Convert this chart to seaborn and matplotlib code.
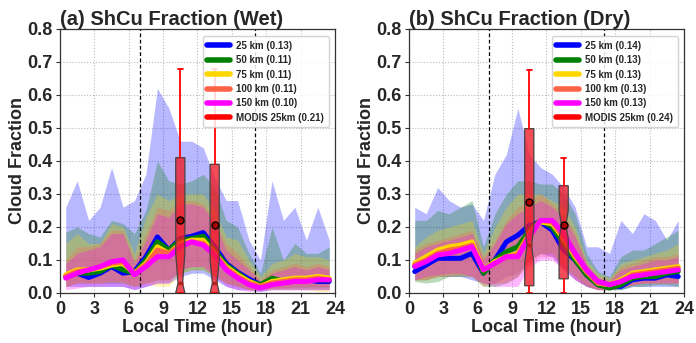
import numpy as np
import pandas as pd
import matplotlib
matplotlib.use("Agg")
import matplotlib.pyplot as plt
from matplotlib.lines import Line2D
import seaborn as sns

hours = [h + 0.5 for h in range(24)]
resolutions = ["25 km", "50 km", "75 km", "100 km", "150 km"]
colors = ["blue", "green", "gold", "tomato", "magenta"]

# ---------------- Wet panel ----------------
wet_mean = {
    "25 km":  [0.050, 0.060, 0.047, 0.060, 0.080, 0.060, 0.065, 0.110, 0.170, 0.130, 0.165, 0.172, 0.183, 0.140, 0.090, 0.063, 0.042, 0.025, 0.030, 0.035, 0.040, 0.040, 0.035, 0.035],
    "50 km":  [0.050, 0.060, 0.060, 0.065, 0.085, 0.070, 0.060, 0.100, 0.155, 0.130, 0.160, 0.165, 0.172, 0.130, 0.085, 0.060, 0.035, 0.025, 0.045, 0.035, 0.040, 0.040, 0.040, 0.040],
    "75 km":  [0.055, 0.070, 0.070, 0.075, 0.085, 0.090, 0.060, 0.090, 0.140, 0.120, 0.150, 0.160, 0.160, 0.120, 0.080, 0.055, 0.035, 0.020, 0.035, 0.040, 0.045, 0.045, 0.050, 0.045],
    "100 km": [0.050, 0.065, 0.070, 0.080, 0.090, 0.095, 0.060, 0.085, 0.130, 0.120, 0.145, 0.155, 0.150, 0.120, 0.075, 0.050, 0.030, 0.020, 0.030, 0.035, 0.040, 0.040, 0.045, 0.040],
    "150 km": [0.045, 0.060, 0.070, 0.080, 0.095, 0.100, 0.055, 0.080, 0.110, 0.110, 0.140, 0.155, 0.145, 0.115, 0.070, 0.045, 0.025, 0.015, 0.025, 0.030, 0.035, 0.035, 0.040, 0.040],
}
wet_hi = {
    "25 km":  [0.26, 0.34, 0.22, 0.26, 0.38, 0.26, 0.28, 0.36, 0.62, 0.56, 0.46, 0.46, 0.44, 0.35, 0.28, 0.28, 0.16, 0.10, 0.34, 0.22, 0.26, 0.16, 0.26, 0.16],
    "50 km":  [0.185, 0.20, 0.18, 0.17, 0.22, 0.21, 0.18, 0.25, 0.40, 0.34, 0.33, 0.34, 0.36, 0.32, 0.22, 0.20, 0.12, 0.06, 0.20, 0.10, 0.15, 0.12, 0.12, 0.14],
    "75 km":  [0.15, 0.18, 0.15, 0.15, 0.21, 0.20, 0.12, 0.23, 0.30, 0.28, 0.30, 0.30, 0.30, 0.25, 0.17, 0.16, 0.10, 0.05, 0.09, 0.10, 0.12, 0.11, 0.11, 0.10],
    "100 km": [0.10, 0.14, 0.14, 0.15, 0.19, 0.19, 0.10, 0.18, 0.26, 0.25, 0.28, 0.28, 0.27, 0.22, 0.15, 0.12, 0.08, 0.04, 0.07, 0.08, 0.09, 0.08, 0.09, 0.08],
    "150 km": [0.09, 0.12, 0.13, 0.14, 0.18, 0.18, 0.09, 0.16, 0.24, 0.23, 0.27, 0.27, 0.26, 0.21, 0.13, 0.10, 0.07, 0.035, 0.06, 0.07, 0.08, 0.07, 0.08, 0.07],
}
wet_lo = {
    "25 km":  [0.020, 0.020, 0.020, 0.020, 0.020, 0.020, 0.010, 0.020, 0.030, 0.030, 0.050, 0.060, 0.060, 0.040, 0.020, 0.010, 0.010, 0.005, 0.010, 0.010, 0.010, 0.010, 0.010, 0.010],
    "50 km":  [0.020, 0.030, 0.030, 0.030, 0.030, 0.030, 0.020, 0.030, 0.040, 0.040, 0.060, 0.070, 0.070, 0.050, 0.030, 0.020, 0.010, 0.010, 0.015, 0.015, 0.015, 0.015, 0.015, 0.015],
    "75 km":  [0.020, 0.030, 0.030, 0.030, 0.035, 0.030, 0.020, 0.030, 0.020, 0.020, 0.060, 0.070, 0.070, 0.050, 0.030, 0.020, 0.010, 0.010, 0.010, 0.010, 0.010, 0.010, 0.005, 0.005],
    "100 km": [0.020, 0.030, 0.030, 0.030, 0.035, 0.035, 0.020, 0.030, 0.040, 0.040, 0.070, 0.080, 0.080, 0.055, 0.030, 0.020, 0.010, 0.010, 0.015, 0.015, 0.020, 0.020, 0.020, 0.020],
    "150 km": [0.010, 0.015, 0.020, 0.020, 0.020, 0.020, 0.010, 0.020, 0.030, 0.030, 0.070, 0.080, 0.080, 0.050, 0.020, 0.010, 0.005, 0.005, 0.010, 0.010, 0.010, 0.010, 0.010, 0.010],
}
wet_legend_vals = ["0.13", "0.11", "0.11", "0.11", "0.10", "0.21"]

# ---------------- Dry panel ----------------
dry_mean = {
    "25 km":  [0.065, 0.085, 0.105, 0.105, 0.105, 0.120, 0.060, 0.100, 0.155, 0.175, 0.205, 0.215, 0.190, 0.130, 0.100, 0.055, 0.025, 0.020, 0.020, 0.040, 0.045, 0.045, 0.055, 0.050],
    "50 km":  [0.080, 0.100, 0.120, 0.125, 0.135, 0.150, 0.060, 0.100, 0.125, 0.140, 0.190, 0.220, 0.200, 0.150, 0.100, 0.055, 0.025, 0.015, 0.025, 0.045, 0.050, 0.050, 0.060, 0.065],
    "75 km":  [0.090, 0.110, 0.130, 0.140, 0.145, 0.155, 0.070, 0.095, 0.110, 0.120, 0.180, 0.215, 0.210, 0.165, 0.110, 0.065, 0.030, 0.025, 0.040, 0.060, 0.065, 0.070, 0.075, 0.080],
    "100 km": [0.085, 0.100, 0.120, 0.130, 0.135, 0.145, 0.070, 0.090, 0.110, 0.115, 0.180, 0.220, 0.215, 0.170, 0.115, 0.065, 0.030, 0.025, 0.035, 0.055, 0.060, 0.065, 0.070, 0.075],
    "150 km": [0.080, 0.095, 0.115, 0.120, 0.130, 0.140, 0.070, 0.090, 0.110, 0.110, 0.170, 0.220, 0.220, 0.180, 0.120, 0.070, 0.035, 0.025, 0.035, 0.050, 0.055, 0.060, 0.065, 0.070],
}
dry_hi = {
    "25 km":  [0.26, 0.24, 0.32, 0.28, 0.26, 0.27, 0.22, 0.36, 0.42, 0.56, 0.42, 0.38, 0.36, 0.32, 0.26, 0.14, 0.14, 0.12, 0.22, 0.18, 0.24, 0.22, 0.16, 0.22],
    "50 km":  [0.22, 0.22, 0.25, 0.24, 0.26, 0.28, 0.14, 0.24, 0.30, 0.34, 0.34, 0.33, 0.33, 0.30, 0.24, 0.12, 0.065, 0.05, 0.11, 0.13, 0.13, 0.15, 0.17, 0.19],
    "75 km":  [0.14, 0.17, 0.19, 0.20, 0.21, 0.22, 0.12, 0.20, 0.26, 0.30, 0.30, 0.30, 0.28, 0.26, 0.20, 0.10, 0.06, 0.045, 0.09, 0.10, 0.11, 0.12, 0.13, 0.15],
    "100 km": [0.13, 0.15, 0.16, 0.17, 0.18, 0.19, 0.11, 0.16, 0.22, 0.26, 0.28, 0.30, 0.27, 0.24, 0.18, 0.09, 0.05, 0.04, 0.08, 0.09, 0.10, 0.11, 0.11, 0.12],
    "150 km": [0.12, 0.14, 0.15, 0.16, 0.17, 0.18, 0.10, 0.15, 0.21, 0.24, 0.26, 0.28, 0.26, 0.23, 0.17, 0.085, 0.045, 0.035, 0.07, 0.08, 0.09, 0.10, 0.10, 0.11],
}
dry_lo = {
    "25 km":  [0.040, 0.040, 0.050, 0.050, 0.050, 0.040, 0.030, 0.030, 0.050, 0.060, 0.100, 0.120, 0.110, 0.070, 0.040, 0.020, 0.010, 0.010, 0.010, 0.020, 0.020, 0.020, 0.020, 0.020],
    "50 km":  [0.035, 0.030, 0.035, 0.050, 0.050, 0.050, 0.020, 0.020, 0.030, 0.050, 0.100, 0.120, 0.120, 0.080, 0.050, 0.020, 0.010, 0.010, 0.010, 0.020, 0.020, 0.025, 0.025, 0.020],
    "75 km":  [0.040, 0.040, 0.050, 0.055, 0.055, 0.050, 0.030, 0.030, 0.040, 0.060, 0.100, 0.120, 0.120, 0.080, 0.050, 0.025, 0.010, 0.010, 0.015, 0.025, 0.030, 0.030, 0.030, 0.030],
    "100 km": [0.040, 0.040, 0.050, 0.050, 0.055, 0.050, 0.020, 0.030, 0.030, 0.050, 0.090, 0.110, 0.110, 0.080, 0.040, 0.020, 0.010, 0.010, 0.015, 0.025, 0.030, 0.030, 0.030, 0.030],
    "150 km": [0.040, 0.050, 0.055, 0.060, 0.060, 0.050, 0.030, 0.020, 0.020, 0.020, 0.080, 0.100, 0.100, 0.070, 0.040, 0.020, 0.010, 0.010, 0.015, 0.025, 0.030, 0.030, 0.030, 0.030],
}
dry_legend_vals = ["0.14", "0.13", "0.13", "0.13", "0.13", "0.24"]

# MODIS box statistics (Terra ~10:30, Aqua ~13:30)
box_pos = [10.5, 13.5]
wet_q1 = [0.0, 0.0]
wet_med = [0.03, 0.03]
wet_q3 = [0.41, 0.39]
wet_whislo = [0.0, 0.0]
wet_whishi = [0.68, 0.68]
wet_cilo = [0.0, 0.0]
wet_cihi = [0.12, 0.10]
wet_boxmean = [0.22, 0.205]

dry_q1 = [0.022, 0.043]
dry_med = [0.145, 0.207]
dry_q3 = [0.498, 0.325]
dry_whislo = [0.0, 0.0]
dry_whishi = [0.675, 0.41]
dry_cilo = [0.09, 0.165]
dry_cihi = [0.20, 0.25]
dry_boxmean = [0.277, 0.207]

titles = ["(a) ShCu Fraction (Wet)", "(b) ShCu Fraction (Dry)"]

sns.set_style("ticks")
plt.rcParams["font.family"] = ["Liberation Sans", "DejaVu Sans"]
plt.rcParams["font.weight"] = "bold"

fig = plt.figure(figsize=(6.96, 3.43), dpi=100)
ax1 = fig.add_axes([0.0862, 0.1458, 0.3951, 0.7697])
ax2 = fig.add_axes([0.5876, 0.1458, 0.3951, 0.7697])

panels = [
    (ax1, wet_mean, wet_lo, wet_hi, wet_legend_vals,
     (wet_q1, wet_med, wet_q3, wet_whislo, wet_whishi, wet_cilo, wet_cihi, wet_boxmean)),
    (ax2, dry_mean, dry_lo, dry_hi, dry_legend_vals,
     (dry_q1, dry_med, dry_q3, dry_whislo, dry_whishi, dry_cilo, dry_cihi, dry_boxmean)),
]

for i, (ax, mean, lo, hi, legvals, bstats) in enumerate(panels):
    # shaded spread
    for res, col in zip(resolutions, colors):
        ax.fill_between(hours, lo[res], hi[res], color=col, alpha=0.28, lw=0, zorder=1)
    # mean lines
    df = pd.DataFrame({
        "hour": np.tile(hours, len(resolutions)),
        "cf": np.concatenate([mean[r] for r in resolutions]),
        "res": np.repeat(resolutions, len(hours)),
    })
    sns.lineplot(data=df, x="hour", y="cf", hue="res", hue_order=resolutions,
                 palette=colors, lw=3.6, ax=ax, legend=False, zorder=3)

    # vertical dashed lines (sunrise/sunset)
    ax.axvline(7, color="black", ls="--", lw=0.9, zorder=2, dashes=(3, 2))
    ax.axvline(17, color="black", ls="--", lw=0.9, zorder=2, dashes=(3, 2))

    q1, med, q3, wlo, whi, clo, chi, bmean = bstats
    stats = []
    for k in range(len(box_pos)):
        stats.append(dict(q1=q1[k], med=med[k], q3=q3[k], whislo=wlo[k], whishi=whi[k],
                          cilo=clo[k], cihi=chi[k], mean=bmean[k], fliers=[]))
    ax.bxp(stats, positions=box_pos, widths=0.8, shownotches=True, showmeans=True,
           patch_artist=True, showfliers=False, manage_ticks=False,
           boxprops=dict(facecolor=(0.95, 0.1, 0.15, 0.78), edgecolor="#444444", lw=0.9),
           whiskerprops=dict(color="red", lw=1.3),
           capprops=dict(color="red", lw=1.3),
           medianprops=dict(color="#b22222", lw=2.5),
           meanprops=dict(marker="o", markerfacecolor="#aa0000", markeredgecolor="black",
                          markersize=5),
           capwidths=0.4, zorder=4)

    ax.set_xlim(0, 24)
    ax.set_ylim(0, 0.8)
    ax.set_xticks(range(0, 25, 3))
    ax.set_yticks(np.arange(0, 0.81, 0.1))
    ax.set_yticklabels([f"{v:.1f}" for v in np.arange(0, 0.81, 0.1)])
    ax.tick_params(labelsize=13, length=3, width=0.8, color="#333333", pad=2.5)
    for lab in ax.get_xticklabels() + ax.get_yticklabels():
        lab.set_fontweight("bold")
    ax.grid(True, ls=":", color="#bbbbbb", lw=0.8)
    ax.set_axisbelow(True)
    for sp in ax.spines.values():
        sp.set_color("#333333")
        sp.set_linewidth(0.9)
    ax.set_xlabel("Local Time (hour)", fontsize=13, fontweight="bold", labelpad=1)
    ax.set_ylabel("Cloud Fraction", fontsize=13, fontweight="bold", labelpad=1)
    ax.set_title(titles[i], loc="left", fontsize=14.5, fontweight="bold", pad=2)

    handles = [Line2D([0], [0], color=c, lw=4) for c in colors + ["red"]]
    labels = [f"{r} ({v})" for r, v in zip(resolutions, legvals[:5])] + [f"MODIS 25km ({legvals[5]})"]
    leg = ax.legend(handles, labels, loc="upper right", fontsize=7, frameon=True,
                    framealpha=0.85, edgecolor="#cccccc", handlelength=2.3,
                    borderpad=0.45, labelspacing=0.45, handletextpad=0.7,
                    bbox_to_anchor=(0.995, 0.99))
    for t in leg.get_texts():
        t.set_fontweight("bold")
    leg.set_zorder(10)

fig.savefig("out.png", dpi=100)
